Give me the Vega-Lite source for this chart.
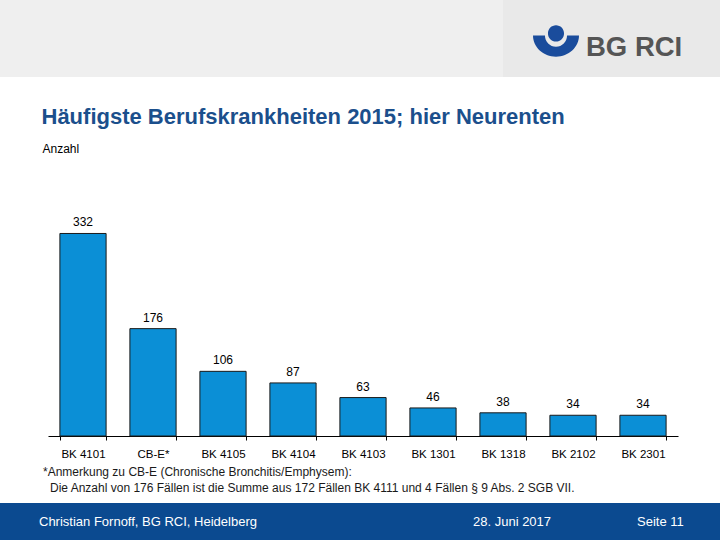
{
  "$schema": "https://vega.github.io/schema/vega-lite/v6.json",
  "width": 630,
  "height": 244,
  "autosize": {"type": "none"},
  "padding": {"left": 48, "right": 42, "top": 192, "bottom": 104},
  "background": "white",
  "config": {"view": {"stroke": null}, "font": "Liberation Sans"},
  "datasets": {
    "bk": [
      {"kat": "BK 4101", "anzahl": 332},
      {"kat": "CB-E*", "anzahl": 176},
      {"kat": "BK 4105", "anzahl": 106},
      {"kat": "BK 4104", "anzahl": 87},
      {"kat": "BK 4103", "anzahl": 63},
      {"kat": "BK 1301", "anzahl": 46},
      {"kat": "BK 1318", "anzahl": 38},
      {"kat": "BK 2102", "anzahl": 34},
      {"kat": "BK 2301", "anzahl": 34}
    ]
  },
  "layer": [
    {
      "data": {"values": [{"teil": "links"}]},
      "mark": {"type": "rect", "color": "#efefef"},
      "encoding": {"x": {"value": -48}, "x2": {"value": 455}, "y": {"value": -192}, "y2": {"value": -115}}
    },
    {
      "data": {"values": [{"teil": "rechts"}]},
      "mark": {"type": "rect", "color": "#e9e9e9"},
      "encoding": {"x": {"value": 455}, "x2": {"value": 672}, "y": {"value": -192}, "y2": {"value": -115}}
    },
    {
      "data": {"values": [{"logo": "symbol"}]},
      "mark": {
        "type": "point",
        "filled": true,
        "opacity": 1,
        "color": "#1a4c9c",
        "strokeWidth": 0,
        "size": 2116,
        "shape": "M-1,-0.24 A1,0.92 0 0 0 1,-0.24 L0.48,-0.24 A0.48,0.49 0 0 1 -0.48,-0.24 Z M-0.35,-0.33 A0.35,0.35 0 1 0 0.35,-0.33 A0.35,0.35 0 1 0 -0.35,-0.33 Z"
      },
      "encoding": {"x": {"value": 508}, "y": {"value": -151}}
    },
    {
      "data": {"values": [{"t": "BG RCI"}]},
      "mark": {"type": "text", "align": "left", "baseline": "alphabetic", "font": "Liberation Sans", "fontWeight": "bold", "fontSize": 27.5, "color": "#555555"},
      "encoding": {"x": {"value": 538}, "y": {"value": -136}, "text": {"field": "t"}}
    },
    {
      "data": {"values": [{"t": "Häufigste Berufskrankheiten 2015; hier Neurenten"}]},
      "mark": {"type": "text", "align": "left", "baseline": "alphabetic", "font": "Liberation Sans", "fontWeight": "bold", "fontSize": 22, "color": "#1b4f8c"},
      "encoding": {"x": {"value": -6.5}, "y": {"value": -68}, "text": {"field": "t"}}
    },
    {
      "data": {"values": [{"t": "Anzahl"}]},
      "mark": {"type": "text", "align": "left", "baseline": "alphabetic", "font": "Liberation Sans", "fontSize": 12, "color": "#000000"},
      "encoding": {"x": {"value": -5.5}, "y": {"value": -39}, "text": {"field": "t"}}
    },
    {
      "data": {"name": "bk"},
      "mark": {"type": "bar", "color": "#0b8fd6", "stroke": "#1a1a1a", "strokeWidth": 1},
      "encoding": {
        "x": {
          "field": "kat",
          "type": "nominal",
          "sort": null,
          "scale": {"paddingInner": 0.34, "paddingOuter": 0.17},
          "axis": {
            "title": null,
            "labelAngle": 0,
            "tickBand": "extent",
            "domainColor": "#000000",
            "tickColor": "#000000",
            "tickSize": 4,
            "labelFont": "Liberation Sans",
            "labelFontSize": 11.5,
            "labelColor": "#000000",
            "labelPadding": 8
          }
        },
        "y": {"field": "anzahl", "type": "quantitative", "scale": {"domain": [0, 400]}, "axis": null}
      }
    },
    {
      "data": {"name": "bk"},
      "mark": {"type": "text", "align": "center", "baseline": "alphabetic", "dy": -7, "fontSize": 12, "font": "Liberation Sans", "color": "#000000"},
      "encoding": {
        "x": {"field": "kat", "type": "nominal", "sort": null},
        "y": {"field": "anzahl", "type": "quantitative"},
        "text": {"field": "anzahl", "type": "quantitative"}
      }
    },
    {
      "data": {"values": [{"t": "*Anmerkung zu CB-E (Chronische Bronchitis/Emphysem):"}]},
      "mark": {"type": "text", "align": "left", "baseline": "alphabetic", "fontSize": 12, "font": "Liberation Sans", "color": "#1a1a1a"},
      "encoding": {"x": {"value": -5}, "y": {"value": 284}, "text": {"field": "t"}}
    },
    {
      "data": {"values": [{"t": "Die Anzahl von 176 Fällen ist die Summe aus 172 Fällen BK 4111 und 4 Fällen § 9 Abs. 2 SGB VII."}]},
      "mark": {"type": "text", "align": "left", "baseline": "alphabetic", "fontSize": 12, "font": "Liberation Sans", "color": "#1a1a1a"},
      "encoding": {"x": {"value": 2}, "y": {"value": 300}, "text": {"field": "t"}}
    },
    {
      "data": {"values": [{"teil": "fuss"}]},
      "mark": {"type": "rect", "color": "#0b4a90"},
      "encoding": {"x": {"value": -48}, "x2": {"value": 672}, "y": {"value": 311}, "y2": {"value": 348}}
    },
    {
      "data": {"values": [{"t": "Christian Fornoff, BG RCI, Heidelberg"}]},
      "mark": {"type": "text", "align": "left", "baseline": "alphabetic", "fontSize": 13, "font": "Liberation Sans", "color": "#ffffff"},
      "encoding": {"x": {"value": -9}, "y": {"value": 334}, "text": {"field": "t"}}
    },
    {
      "data": {"values": [{"t": "28. Juni 2017"}]},
      "mark": {"type": "text", "align": "left", "baseline": "alphabetic", "fontSize": 13, "font": "Liberation Sans", "color": "#ffffff"},
      "encoding": {"x": {"value": 425}, "y": {"value": 334}, "text": {"field": "t"}}
    },
    {
      "data": {"values": [{"t": "Seite 11"}]},
      "mark": {"type": "text", "align": "left", "baseline": "alphabetic", "fontSize": 13, "font": "Liberation Sans", "color": "#ffffff"},
      "encoding": {"x": {"value": 589}, "y": {"value": 334}, "text": {"field": "t"}}
    }
  ]
}
